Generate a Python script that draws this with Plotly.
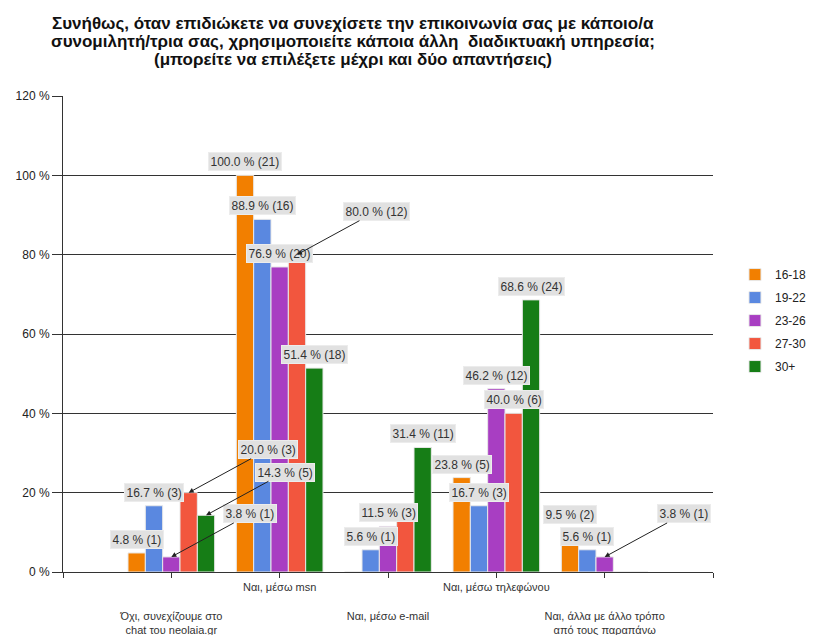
import plotly.graph_objects as go

# Answer categories (x axis) and age groups (series).
categories = [
    "Όχι, συνεχίζουμε στο<br>chat του neolaia.gr",
    "Ναι, μέσω msn",
    "Ναι, μέσω e-mail",
    "Ναι, μέσω τηλεφώνου",
    "Ναι, άλλα με άλλο τρόπο<br>από τους παραπάνω",
]
age_groups = ["16-18", "19-22", "23-26", "27-30", "30+"]

# Percentages per age group, one value per category.
pct_16_18 = [4.8, 100.0, 0.0, 23.8, 9.5]
pct_19_22 = [16.7, 88.9, 5.6, 16.7, 5.6]
pct_23_26 = [3.8, 76.9, 11.5, 46.2, 3.8]
pct_27_30 = [20.0, 80.0, 13.3, 40.0, 0.0]
pct_30_plus = [14.3, 51.4, 31.4, 68.6, 0.0]

# Respondent counts shown in the data labels.
cnt_16_18 = [1, 21, 0, 5, 2]
cnt_19_22 = [3, 16, 1, 3, 1]
cnt_23_26 = [1, 20, 3, 12, 1]
cnt_27_30 = [3, 12, 2, 6, 0]
cnt_30_plus = [5, 18, 11, 24, 0]

y_ticks = [0, 20, 40, 60, 80, 100, 120]

title_lines = [
    "Συνήθως, όταν επιδιώκετε να συνεχίσετε την επικοινωνία σας με κάποιο/α",
    "συνομιλητή/τρια σας, χρησιμοποιείτε κάποια άλλη  διαδικτυακή υπηρεσία;",
    "(μπορείτε να επιλέξετε μέχρι και δύο απαντήσεις)",
]

percents = [pct_16_18, pct_19_22, pct_23_26, pct_27_30, pct_30_plus]
counts = [cnt_16_18, cnt_19_22, cnt_23_26, cnt_27_30, cnt_30_plus]
colors = ["#f27f00", "#5a88e0", "#a83ec2", "#f2563e", "#167d16"]

# Labels that the original chart moved aside with an arrow, or hid.
arrow_labels = {(0, 2), (0, 3), (0, 4), (1, 3), (4, 2)}
hidden_labels = {(2, 3)}
raised_labels = {(4, 0): 20}

x_pos = list(range(1, len(categories) + 1))

fig = go.Figure()
for s, name in enumerate(age_groups):
    fig.add_trace(go.Bar(
        x=x_pos, y=percents[s], name=name, legendgroup=name,
        marker=dict(color=colors[s], line=dict(color="#e8e8e8", width=1)),
        hoverinfo="skip",
    ))

# Data labels in grey boxes.
bar_step = 0.8 / len(age_groups)
for s in range(len(age_groups)):
    for c in range(len(categories)):
        v = percents[s][c]
        if v == 0 or (c, s) in hidden_labels:
            continue
        x = x_pos[c] + (s - 2) * bar_step
        text = f"{v:.1f} % ({counts[s][c]})"
        common = dict(x=x, y=v, text=text, bgcolor="#e1e1e1", bordercolor="#ececec",
                      borderwidth=1, borderpad=1.5,
                      font=dict(family="Liberation Sans", size=12, color="#333333"))
        if (c, s) in arrow_labels:
            fig.add_annotation(**common, showarrow=True, ax=79, ay=-43,
                               arrowhead=2, arrowsize=1, arrowwidth=1,
                               arrowcolor="#222222", standoff=0)
        else:
            fig.add_annotation(**common, showarrow=False, yanchor="middle",
                               yshift=raised_labels.get((c, s), 13.5))

# Title, one line at a time.
for i, line in enumerate(title_lines):
    fig.add_annotation(
        text=f"<b>{line}</b>", xref="paper", yref="paper",
        x=(353 - 62.5) / 650.5, y=1 + (73 - 18.2 * i) / 476,
        xanchor="center", yanchor="middle", showarrow=False,
        font=dict(family="Liberation Sans", size=17, color="#111111"),
    )

# Staggered category labels: every other one goes to a lower row.
tick_text = [""]
for i, cat in enumerate(categories):
    tick_text.append(cat if i % 2 == 1 else "<br><br>" + cat)
tick_text.append("")

# The page body adds an 8px offset, so the figure is 8px smaller.
fig.update_layout(
    width=811, height=627,
    margin=dict(l=54.5, r=106, t=88, b=63.3),
    paper_bgcolor="white", plot_bgcolor="white",
    barmode="group", bargap=0.2, bargroupgap=0,
    font=dict(family="Liberation Sans", color="#222222"),
    legend=dict(xref="container", yref="container", x=0.8964, y=0.598,
                xanchor="left", yanchor="top", itemwidth=30,
                font=dict(size=12, color="#222222"), tracegroupgap=4),
    showlegend=True,
)
fig.update_xaxes(
    range=[0, 6], tickvals=list(range(0, 7)), ticktext=tick_text, tickangle=0,
    showgrid=False, zeroline=False, showline=True, linecolor="#333333",
    ticks="outside", ticklen=5, tickcolor="#333333", automargin=False,
    tickfont=dict(size=11, color="#333333"),
)
fig.update_yaxes(
    range=[0, 120], tickvals=y_ticks, ticktext=[f"{t} %" for t in y_ticks],
    showgrid=True, gridcolor="#333333", gridwidth=1, zeroline=False,
    showline=True, linecolor="#333333", automargin=False,
    ticks="outside", ticklen=10, tickcolor="#333333",
    tickfont=dict(size=12, color="#222222"),
)

fig.write_html("out.html")
